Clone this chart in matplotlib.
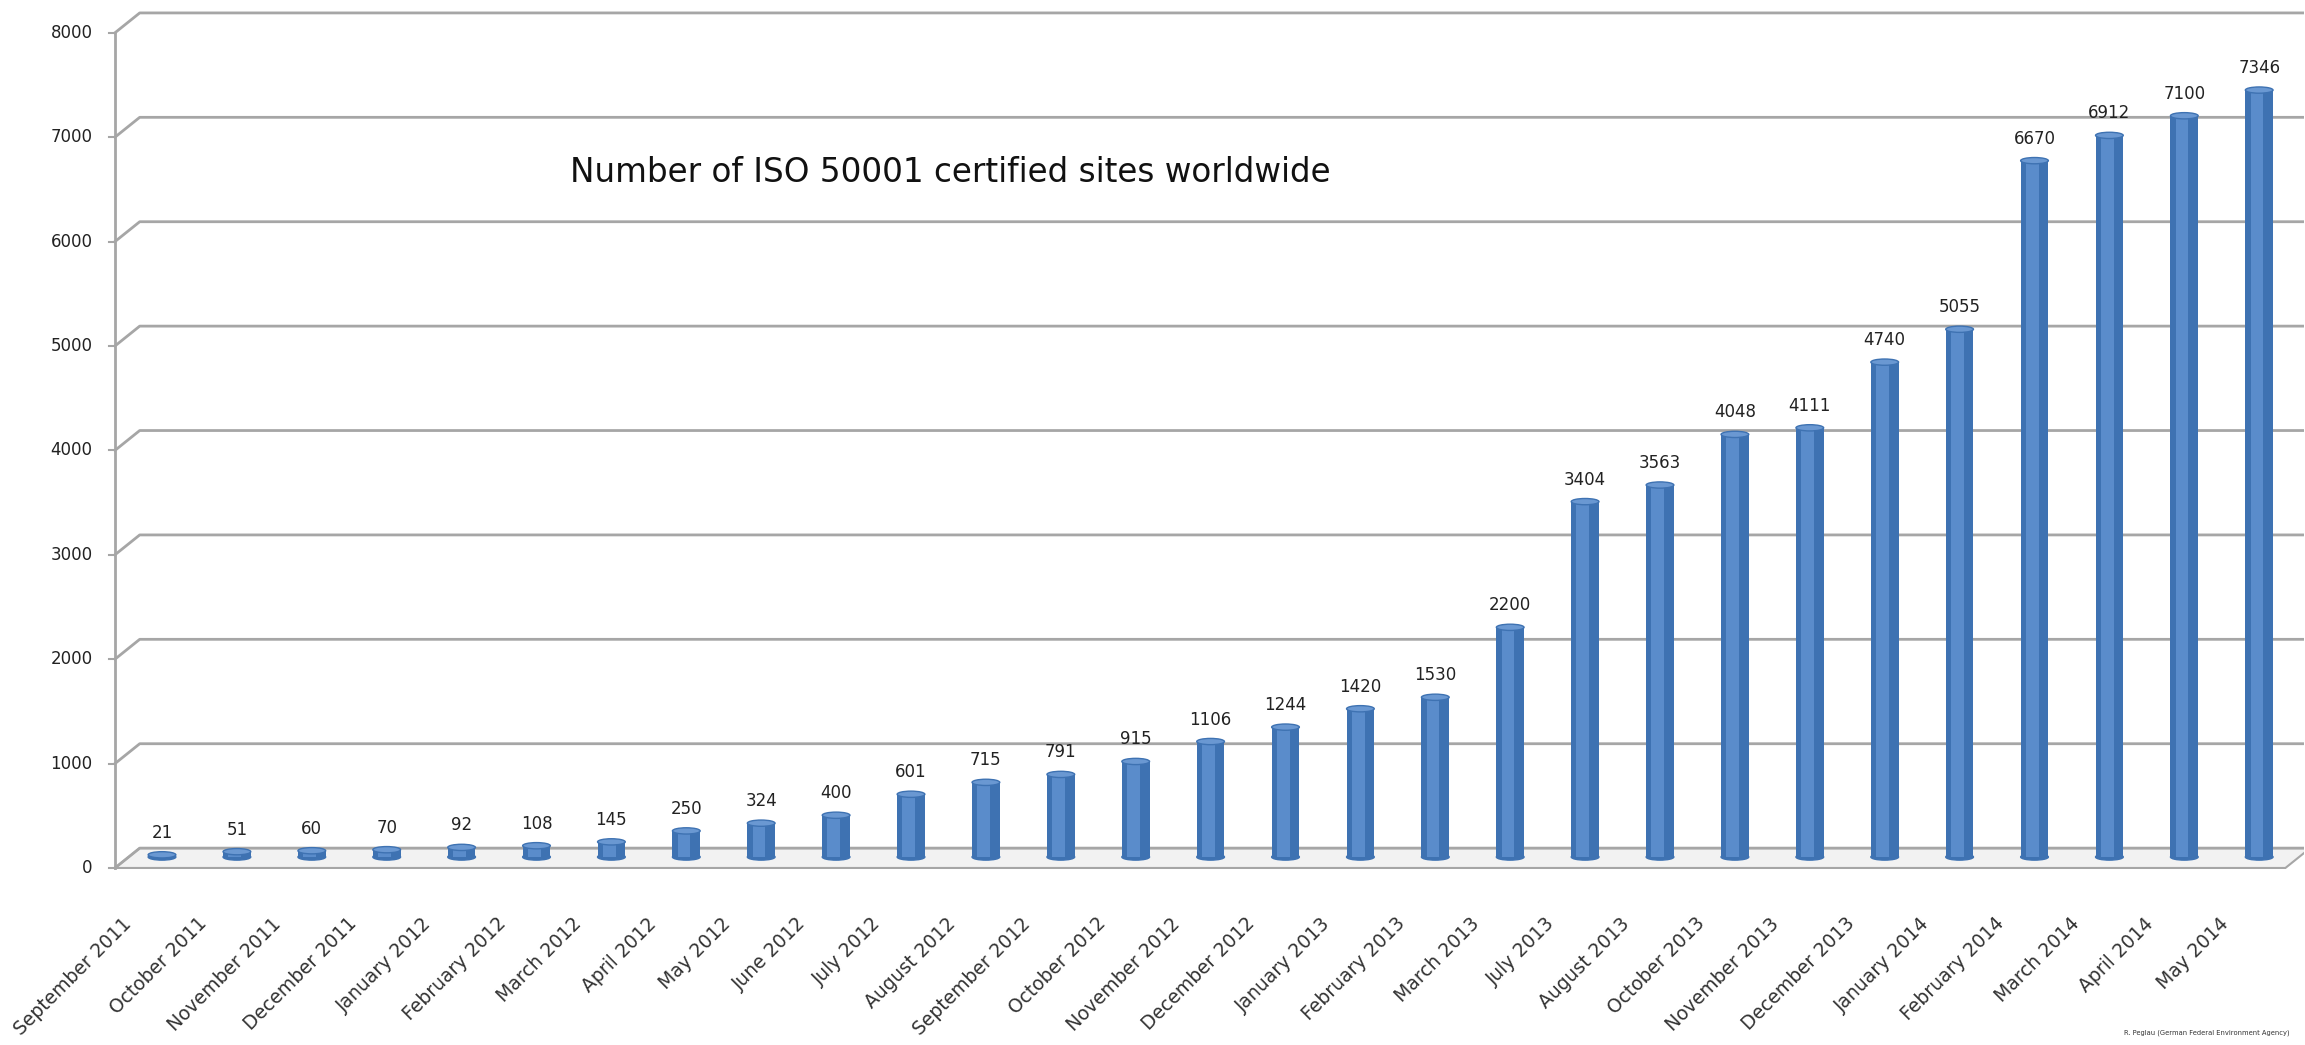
import matplotlib.pyplot as plt
from matplotlib.patches import Ellipse, Polygon

plt.rcParams['font.family'] = ['DejaVu Sans']

months = ['September 2011', 'October 2011', 'November 2011', 'December 2011',
          'January 2012', 'February 2012', 'March 2012', 'April 2012', 'May 2012',
          'June 2012', 'July 2012', 'August 2012', 'September 2012', 'October 2012',
          'November 2012', 'December 2012', 'January 2013', 'February 2013',
          'March 2013', 'July 2013', 'August 2013', 'October 2013', 'November 2013',
          'December 2013', 'January 2014', 'February 2014', 'March 2014',
          'April 2014', 'May 2014']
sites = [21, 51, 60, 70, 92, 108, 145, 250, 324, 400, 601, 715, 791, 915, 1106,
         1244, 1420, 1530, 2200, 3404, 3563, 4048, 4111, 4740, 5055, 6670, 6912,
         7100, 7346]
yticks = [0, 1000, 2000, 3000, 4000, 5000, 6000, 7000, 8000]

W, H = 2305, 1045
fig = plt.figure(figsize=(W / 100, H / 100), dpi=100)

# pixel layout of the original picture
y0_px, px_per_unit = 857, 0.1044
x0_px, px_per_bar = 162, 74.9
ylo, yhi = -330, 8150
xlo, xhi = -0.9, 28.6
left = x0_px + xlo * px_per_bar
right = x0_px + xhi * px_per_bar
bot = y0_px - ylo * px_per_unit
top = y0_px - yhi * px_per_unit
ax = fig.add_axes([left / W, 1 - bot / H, (right - left) / W, (bot - top) / H])
ax.set_xlim(xlo, xhi)
ax.set_ylim(ylo, yhi)
ax.axis('off')

# fake 3d : front edge, back wall and depth offset
front, back, dx = -105, 85, 0.33
sx = (115 - x0_px) / px_per_bar
grid = '#a6a6a6'

floor = Polygon([(sx, front), (28.35, front), (28.35 + dx, back), (sx + dx, back)],
                closed=True, facecolor='#f2f2f2', edgecolor=grid, lw=1.5, zorder=1)
ax.add_patch(floor)
for v in yticks:
    ax.plot([sx, sx + dx, xhi], [v + front, v + back, v + back], color=grid, lw=2, zorder=1)
    ax.plot([sx - 0.08, sx], [v + front, v + front], color=grid, lw=1.5, zorder=1)
    ax.text(sx - 0.3, v + front, str(v), ha='right', va='center', fontsize=12,
            color='#222222')
ax.plot([sx, sx], [front, 8000 + front], color=grid, lw=2, zorder=1)

# cylinders
x = list(range(len(sites)))
bw = 0.37
ax.bar(x, sites, width=bw, color='#3e72b2', zorder=3)
ax.bar([i - 0.03 for i in x], sites, width=0.17, color='#5a8ccb', zorder=3)
for i, v in zip(x, sites):
    ax.add_patch(Ellipse((i, 0), bw, 60, color='#3e72b2', zorder=2))
    ax.add_patch(Ellipse((i, v), bw, 60, color='#6a98d2', ec='#3e72b2', lw=1, zorder=4))
    ax.annotate(str(v), (i, v), xytext=(0, 13), textcoords='offset pixels',
                ha='center', va='bottom', fontsize=12, color='#222222')

# rotated month labels
ylab = (y0_px - 914) / px_per_unit
for i, m in zip(x, months):
    ax.text(i - 40 / px_per_bar, ylab, m, rotation=45, ha='right', va='top',
            rotation_mode='anchor', fontsize=13.5, color='#333333')

ax.text((570 - x0_px) / px_per_bar, (y0_px - 173) / px_per_unit,
        'Number of ISO 50001 certified sites worldwide', ha='left', va='center',
        fontsize=23.5, color='#111111')

fig.text(2290 / W, 1 - 1033 / H, 'R. Peglau (German Federal Environment Agency)',
         ha='right', va='center', fontsize=4.9, color='#333333')

fig.savefig('out.png', dpi=100, facecolor='white')
